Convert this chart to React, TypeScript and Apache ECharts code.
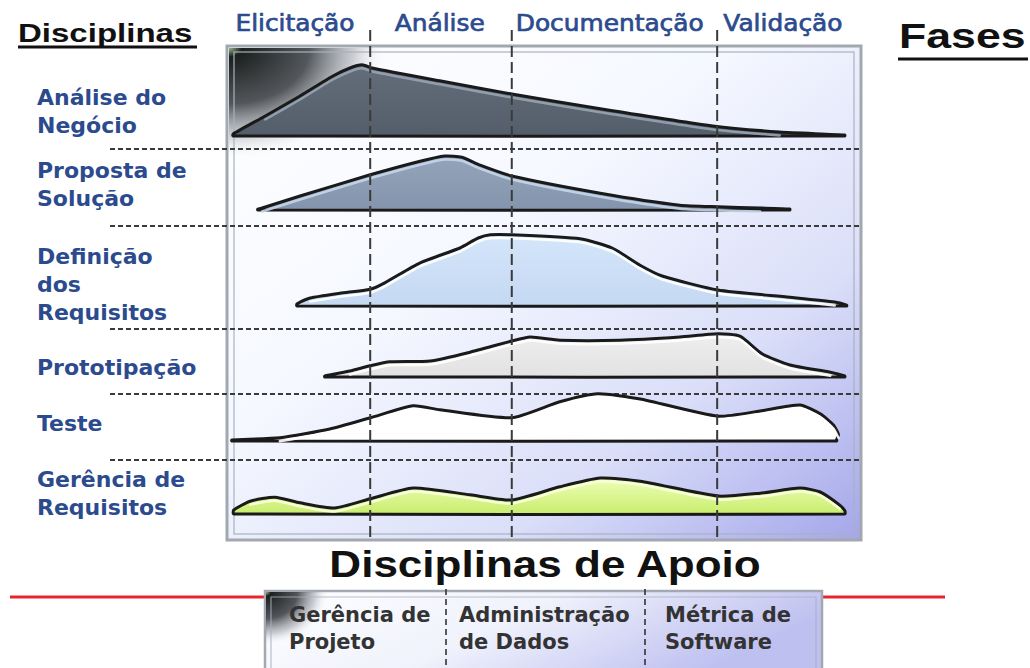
import React, { useEffect, useRef } from "react";
import * as echarts from "echarts";

// ---------- data ----------
const phases = ["Elicitação", "Análise", "Documentação", "Validação"];
const phaseLabelAt = [10.6, 33.5, 60.4, 87.8]; // project time (0-100)
const phaseBoundaries = [22.5, 44.9, 77.4]; // project time (0-100)

const disciplines = [
  "Análise do\nNegócio",
  "Proposta de\nSolução",
  "Definição\ndos\nRequisitos",
  "Prototipação",
  "Teste",
  "Gerência de\nRequisitos",
];

// [project time 0-100, effort 0-100]
const analiseNegocio = [
  [0.8, 2.5], [5.9, 25], [11.4, 50], [16.6, 75], [19.3, 85], [21.2, 89], [22.8, 85],
  [33.5, 69], [44.9, 52.5], [58.9, 34], [76.7, 12.5], [87.3, 5], [97.6, 1.25],
];
const propostaSolucao = [
  [4.7, 1], [5.4, 2.5], [11.4, 17.5], [22.5, 44], [30.4, 61], [34.3, 67.5], [37.0, 66],
  [39.9, 56], [44.9, 42.5], [58.9, 21], [71.5, 6], [77.5, 4], [84.2, 2.5], [88.9, 1.25],
];
const definicaoRequisitos = [
  [10.9, 2.5], [13.0, 10], [17.7, 16], [22.5, 21], [24.8, 29], [30.4, 54], [36.7, 72.5],
  [39.6, 85], [41.5, 89], [44.9, 89], [55.7, 84], [60.8, 72.5], [65.2, 51], [68.7, 37.5],
  [77.5, 20], [88.9, 11], [96.0, 5], [97.9, 1],
];
const prototipacao = [
  [15.3, 1.25], [19.3, 7.5], [22.5, 14], [25.6, 19], [32.0, 20], [38.3, 31], [44.9, 45],
  [47.8, 50], [52.5, 46], [62.0, 46], [71.5, 50], [77.5, 54], [81.0, 51], [84.5, 29],
  [88.9, 15], [95.3, 6], [97.6, 1.25],
];
const teste = [
  [0.6, 1.25], [8.2, 4], [16.1, 15], [22.5, 29], [29.3, 44], [33.5, 39], [44.9, 29],
  [52.5, 49], [58.5, 59], [65.2, 52.5], [77.5, 31], [84.2, 37.5], [90.5, 45], [93.7, 34],
  [95.8, 20], [96.6, 8], [96.3, 2],
];
const gerenciaRequisitos = [
  [0.9, 5], [3.5, 16], [7.4, 21], [11.4, 14], [16.9, 7.5], [22.5, 19], [29.3, 32.5],
  [38.3, 24], [44.9, 17.5], [52.5, 34], [58.9, 45], [65.2, 41], [77.5, 22.5], [84.2, 26],
  [90.5, 32.5], [93.7, 27.5], [96.8, 11], [97.6, 4],
];
const humpData = [analiseNegocio, propostaSolucao, definicaoRequisitos, prototipacao, teste, gerenciaRequisitos];

const supportDisciplines = ["Gerência de\nProjeto", "Administração\nde Dados", "Métrica de\nSoftware"];

// ---------- layout & style ----------
const PLOT_LEFT = 228;
const PLOT_WIDTH = 632;
const ROW_HEIGHT = 80;
const humpBaselines = [136, 210, 306, 377, 441, 514];
const labelTops = [83, 156, 242, 353, 409, 465];
const separatorYs = [149, 226, 329, 394, 460];
const supportX = [289, 459, 665];
const supportSepX = [446, 645];

const grad = (c0: string, c1: string) => ({
  type: "linear", x: 0, y: 0, x2: 0, y2: 1,
  colorStops: [{ offset: 0, color: c0 }, { offset: 1, color: c1 }],
});
const humpFills: any[] = [
  grad("#646E7A", "#545E6A"),
  grad("#94A4BA", "#8494AC"),
  grad("#D4E6FA", "#C4D8F2"),
  grad("#EEEEEE", "#E2E2E2"),
  "#FFFFFF",
  grad("#EEFFB8", "#C8EC6C"),
];
const humpHighlights = ["#98A4B2", "#C6D6EA", "#FFFFFF", "#FFFFFF", "#FFFFFF", "#FAFFE0"];

const BLUE = "#2C4B8E";
const X = (u: number) => PLOT_LEFT + (PLOT_WIDTH * u) / 100;

const cornerStops = [
  { offset: 0, color: "rgba(150,175,140,0.95)" },
  { offset: 0.08, color: "rgba(20,24,22,0.97)" },
  { offset: 0.5, color: "rgba(40,45,50,0.8)" },
  { offset: 0.78, color: "rgba(110,115,125,0.35)" },
  { offset: 1, color: "rgba(255,255,255,0)" },
];

function buildOption() {
  const grids: any[] = [];
  const xAxes: any[] = [];
  const yAxes: any[] = [];
  const series: any[] = [];

  humpData.forEach((pts, i) => {
    grids.push({ left: PLOT_LEFT, width: PLOT_WIDTH, top: humpBaselines[i] - ROW_HEIGHT, height: ROW_HEIGHT });
    xAxes.push({ type: "value", gridIndex: i, min: 0, max: 100, show: false });
    yAxes.push({ type: "value", gridIndex: i, min: 0, max: 100, show: false });
    series.push({
      type: "custom",
      name: disciplines[i].replace(/\n/g, " "),
      xAxisIndex: i,
      yAxisIndex: i,
      clip: false,
      silent: true,
      z: 3,
      data: pts,
      renderItem: (params: any, api: any) => {
        if (params.dataIndex !== 0) return null;
        const top = pts.map((p) => api.coord(p));
        const bEnd = api.coord([pts[pts.length - 1][0], 0]);
        const bStart = api.coord([pts[0][0], 0]);
        const poly = [...top, bEnd, bStart];
        const hl = top.slice(1, -1).map(([x, y]: number[]) => [x, y + 3.5]);
        return {
          type: "group",
          children: [
            {
              type: "polygon",
              shape: { points: poly, smooth: 0.2 },
              style: { fill: humpFills[i], stroke: "#1A1A1A", lineWidth: 3, lineJoin: "round" },
            },
            {
              type: "polyline",
              shape: { points: hl, smooth: 0.2 },
              style: { fill: null, stroke: humpHighlights[i], lineWidth: 2.5, lineCap: "round", opacity: 0.9 },
            },
          ],
        };
      },
    });
  });

  // overlay grid for phase boundaries
  const oi = humpData.length;
  grids.push({ left: PLOT_LEFT, width: PLOT_WIDTH, top: 30, height: 511 });
  xAxes.push({ type: "value", gridIndex: oi, min: 0, max: 100, show: false });
  yAxes.push({ type: "value", gridIndex: oi, min: 0, max: 1, show: false });
  series.push({
    type: "custom",
    name: "Fases",
    xAxisIndex: oi,
    yAxisIndex: oi,
    clip: false,
    silent: true,
    z: 6,
    data: phaseBoundaries.map((b) => [b]),
    renderItem: (params: any, api: any) => {
      const x = api.value(0);
      const p1 = api.coord([x, 1]);
      const p2 = api.coord([x, 0]);
      return {
        type: "line",
        shape: { x1: p1[0], y1: p1[1], x2: p2[0], y2: p2[1] },
        style: { stroke: "#3A3A3A", lineWidth: 2, lineDash: [11, 5] },
      };
    },
  });

  const graphic: any[] = [];
  // main box background
  graphic.push({
    type: "rect",
    shape: { x: 227, y: 46, width: 634, height: 494 },
    style: {
      fill: {
        type: "linear", x: 0, y: 0, x2: 1, y2: 1,
        colorStops: [
          { offset: 0, color: "#FFFFFF" },
          { offset: 0.4, color: "#F5F8FF" },
          { offset: 0.72, color: "#DADEF8" },
          { offset: 1, color: "#A4A6EA" },
        ],
      },
      stroke: "#A2A8B0",
      lineWidth: 3,
    },
  });
  graphic.push({
    type: "rect",
    shape: { x: 229, y: 48, width: 200, height: 140 },
    style: { fill: { type: "radial", x: 0, y: 0, r: 0.8, colorStops: cornerStops } },
  });
  graphic.push({
    type: "rect",
    shape: { x: 234, y: 52, width: 620, height: 482 },
    style: { fill: null, stroke: "rgba(170,176,190,0.8)", lineWidth: 1.5 },
  });

  // horizontal separators
  separatorYs.forEach((y) => {
    graphic.push({
      type: "line",
      shape: { x1: 110, y1: y, x2: 861, y2: y },
      style: { stroke: "#3A3A3A", lineWidth: 2, lineDash: [5, 3] },
    });
  });

  // titles
  graphic.push({
    type: "text", x: 18, y: 33, scaleX: 1.27,
    style: { text: "Disciplinas", font: "bold 26px 'Liberation Sans', Arial, sans-serif", fill: "#111", align: "left", verticalAlign: "middle" },
  });
  graphic.push({ type: "line", shape: { x1: 18, y1: 47, x2: 197, y2: 47 }, style: { stroke: "#111", lineWidth: 3 } });
  graphic.push({
    type: "text", x: 899, y: 36, scaleX: 1.24,
    style: { text: "Fases", font: "bold 36px 'Liberation Sans', Arial, sans-serif", fill: "#111", align: "left", verticalAlign: "middle" },
  });
  graphic.push({ type: "line", shape: { x1: 898, y1: 59, x2: 1028, y2: 59 }, style: { stroke: "#111", lineWidth: 3 } });

  // phase labels
  phases.forEach((p, i) => {
    graphic.push({
      type: "text", x: X(phaseLabelAt[i]), y: 23, scaleX: 1.08,
      style: {
        text: p, font: "23px 'DejaVu Sans', Verdana, sans-serif", fill: BLUE,
        stroke: BLUE, lineWidth: 0.7, align: "center", verticalAlign: "middle",
      },
    });
  });

  // discipline labels
  disciplines.forEach((d, i) => {
    graphic.push({
      type: "text", x: 37, y: labelTops[i],
      style: { text: d, font: "bold 22px 'DejaVu Sans', Verdana, sans-serif", fill: BLUE, align: "left", verticalAlign: "top", lineHeight: 28 },
    });
  });

  // support section
  graphic.push({
    type: "text", x: 545, y: 564, scaleX: 1.19,
    style: { text: "Disciplinas de Apoio", font: "bold 37px 'Liberation Sans', Arial, sans-serif", fill: "#111", align: "center", verticalAlign: "middle" },
  });
  graphic.push({ type: "line", shape: { x1: 10, y1: 597, x2: 945, y2: 597 }, style: { stroke: "#E8242C", lineWidth: 3 } });
  graphic.push({
    type: "rect",
    shape: { x: 265, y: 591, width: 557, height: 80 },
    style: {
      fill: {
        type: "linear", x: 0, y: 0, x2: 1, y2: 0.3,
        colorStops: [
          { offset: 0, color: "#FFFFFF" },
          { offset: 0.5, color: "#F0F2FC" },
          { offset: 1, color: "#BEC0F0" },
        ],
      },
      stroke: "#A4A8B2",
      lineWidth: 2.5,
    },
  });
  graphic.push({
    type: "rect",
    shape: { x: 266, y: 592, width: 90, height: 76 },
    style: { fill: { type: "radial", x: 0, y: 0, r: 0.7, colorStops: cornerStops } },
  });
  graphic.push({
    type: "rect",
    shape: { x: 271, y: 597, width: 545, height: 80 },
    style: { fill: null, stroke: "rgba(170,176,190,0.8)", lineWidth: 1.2 },
  });
  supportSepX.forEach((x) => {
    graphic.push({
      type: "line",
      shape: { x1: x, y1: 589, x2: x, y2: 668 },
      style: { stroke: "#333", lineWidth: 1.6, lineDash: [6, 4] },
    });
  });
  supportDisciplines.forEach((s, i) => {
    graphic.push({
      type: "text", x: supportX[i], y: 601,
      style: { text: s, font: "bold 21px 'DejaVu Sans', Verdana, sans-serif", fill: "#333", align: "left", verticalAlign: "top", lineHeight: 27 },
    });
  });

  return {
    animation: false,
    backgroundColor: "#FFFFFF",
    grid: grids,
    xAxis: xAxes,
    yAxis: yAxes,
    series,
    graphic: { elements: graphic },
  };
}

export default function App() {
  const ref = useRef<HTMLDivElement>(null);
  useEffect(() => {
    document.body.style.margin = "0";
    const chart = echarts.init(ref.current!, null, { renderer: "svg" });
    chart.setOption(buildOption() as any);
    return () => chart.dispose();
  }, []);
  return <div ref={ref} style={{ width: 1030, height: 668 }} />;
}
